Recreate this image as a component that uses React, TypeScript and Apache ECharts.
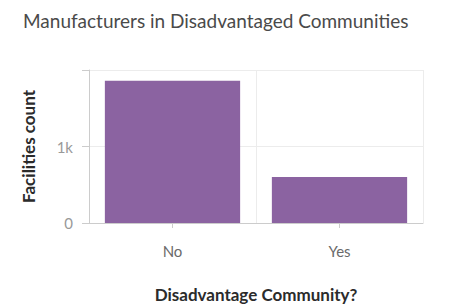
import React, { useEffect, useRef } from "react";
import * as echarts from "echarts";

const categories = ["No", "Yes"];
const facilityCounts = [1860, 600];
const yTickLabels: Record<number, string> = { 0: "0", 1000: "1k" };

export default function App() {
  const ref = useRef<HTMLDivElement>(null);
  useEffect(() => {
    document.body.style.margin = "0";
    const chart = echarts.init(ref.current!, null, { renderer: "svg" });
    chart.setOption({
      animation: false,
      backgroundColor: "#ffffff",
      textStyle: { fontFamily: "Lato" },
      title: {
        text: "Manufacturers in Disadvantaged Communities",
        left: 18,
        top: 6,
        textStyle: { fontSize: 19, fontWeight: "normal", color: "#4a4a4a", fontFamily: "Lato" },
      },
      grid: { left: 89, right: 26, top: 70, bottom: 84, containLabel: false },
      xAxis: {
        type: "category",
        data: categories,
        name: "Disadvantage Community?",
        nameLocation: "middle",
        nameGap: 63,
        nameTextStyle: { fontSize: 17, fontWeight: "bold", color: "#2b2b2b", fontFamily: "Lato" },
        axisLine: { show: true, lineStyle: { color: "#cccccc" } },
        axisTick: { show: true, alignWithLabel: true, length: 5, lineStyle: { color: "#cccccc" } },
        axisLabel: { color: "#6a6a6a", fontSize: 15, margin: 20 },
        splitLine: { show: true, lineStyle: { color: "#ececec" } },
      },
      yAxis: {
        type: "value",
        min: 0,
        max: 2000,
        interval: 1000,
        name: "Facilities count",
        nameLocation: "middle",
        nameGap: 52,
        nameRotate: 90,
        nameTextStyle: { fontSize: 17, fontWeight: "bold", color: "#2b2b2b", fontFamily: "Lato" },
        axisLine: { show: true, lineStyle: { color: "#cccccc" } },
        axisTick: { show: true, length: 7, lineStyle: { color: "#cccccc" } },
        axisLabel: {
          color: "#999999",
          fontSize: 15,
          margin: 16,
          formatter: (v: number) => yTickLabels[v] ?? "",
        },
        splitLine: { show: true, lineStyle: { color: "#ececec" } },
      },
      series: [
        {
          type: "bar",
          data: facilityCounts,
          barWidth: "81%",
          itemStyle: { color: "#8b63a1" },
        },
      ],
    });
    return () => chart.dispose();
  }, []);
  return <div ref={ref} style={{ width: 449, height: 307 }} />;
}
